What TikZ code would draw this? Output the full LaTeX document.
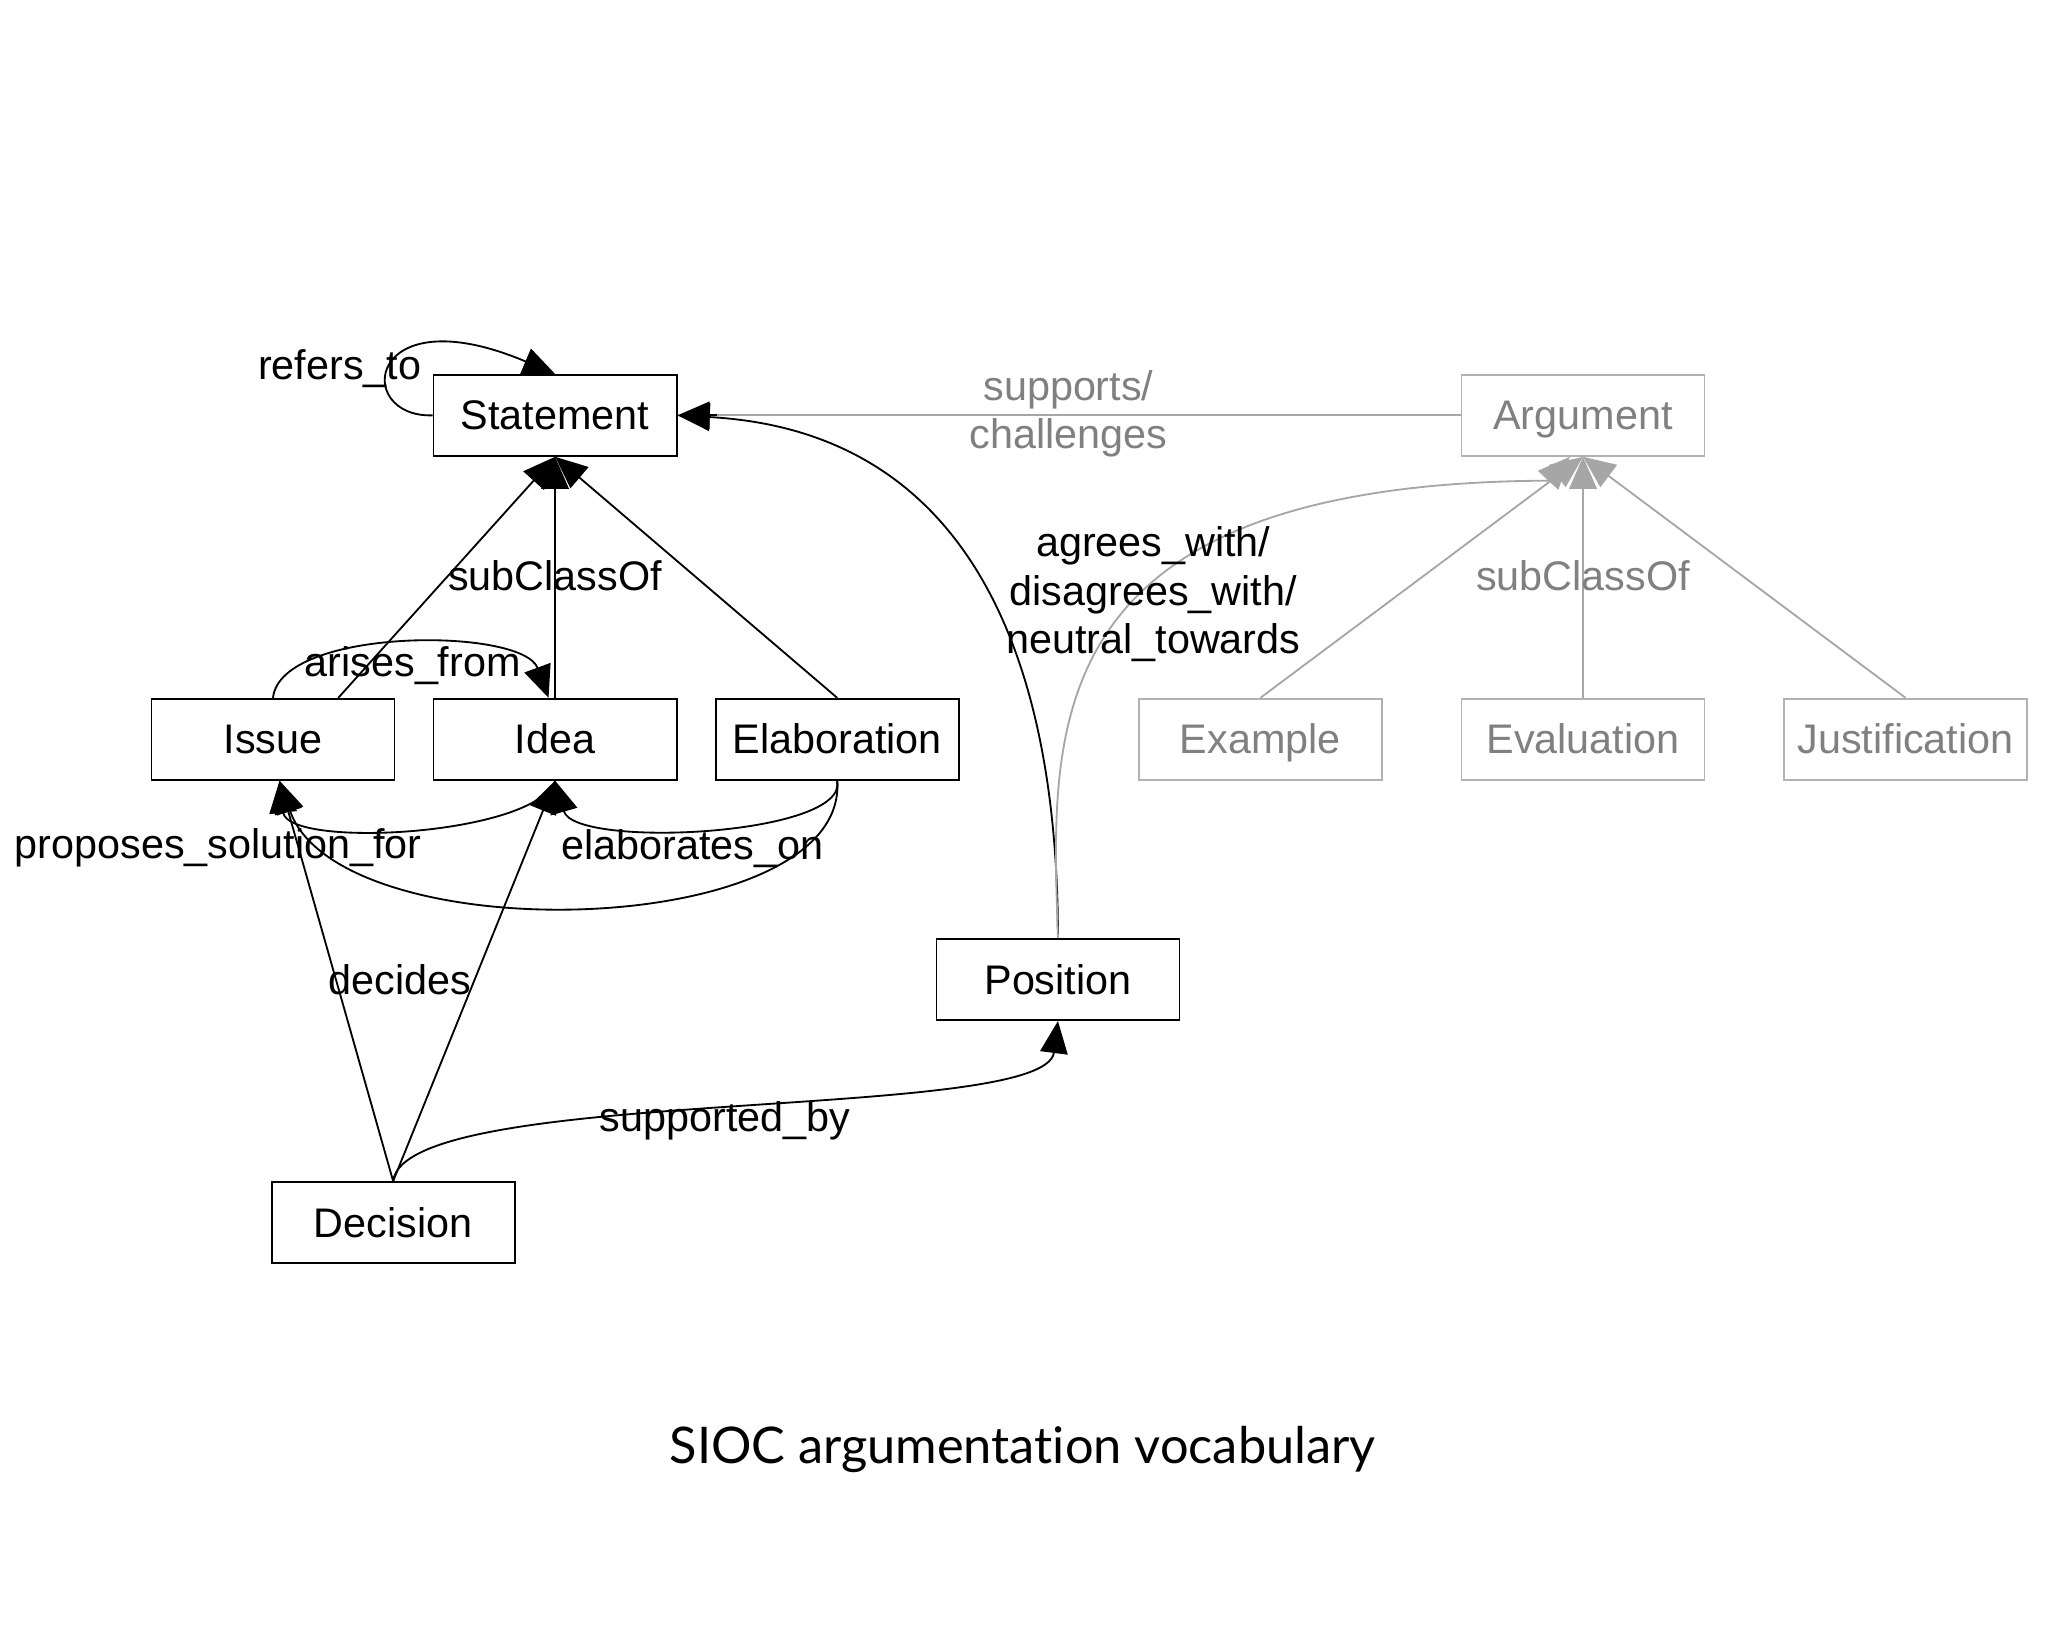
\documentclass[tikz,border=0pt]{standalone}
\usepackage{fontspec}
\setmainfont{Liberation Sans}
\newfontfamily\titlefont[Ligatures={NoCommon,NoRare}]{Lato}
\usetikzlibrary{arrows.meta}
\begin{document}
\begin{tikzpicture}[x=0.01cm,y=-0.01cm,
  cls/.style={draw, minimum width=1.86cm, minimum height=0.62cm, font=\fontsize{9}{11}\selectfont, inner sep=0pt, text height=1.6ex, text depth=0.4ex},
  gcls/.style={cls, draw=gray!60, text=gray},
  lbl/.style={font=\fontsize{9}{10.5}\selectfont, align=center, inner sep=1pt},
  rel/.style={-{Triangle[length=7pt,width=6pt]}},
  grel/.style={rel, draw=gray!70}]

\useasboundingbox (0,0) rectangle (1568,1254);

% classes
\node [cls] (statement) at (425,318) {Statement};
\node [gcls] (argument) at (1212,318) {Argument};
\node [cls] (issue) at (209,566) {Issue};
\node [cls] (idea) at (425,566) {Idea};
\node [cls] (elab) at (641,566) {Elaboration};
\node [gcls] (example) at (965,566) {Example};
\node [gcls] (evaluation) at (1212,566) {Evaluation};
\node [gcls] (justif) at (1459,566) {Justification};
\node [cls] (position) at (810,750) {Position};
\node [cls] (decision) at (301,936) {Decision};

% subClassOf
\draw [rel] (issue.north) ++(50,0) coordinate (i1) -- (statement.south);
\draw [rel] (idea.north) -- (statement.south);
\draw [rel] (elab.north) -- (statement.south);
\draw [grel] (example.north) -- (argument.south);
\draw [grel] (evaluation.north) -- (argument.south);
\draw [grel] (justif.north) -- (argument.south);

% relations
\draw [rel] (statement.west) .. controls (270,320) and (280,225) .. (statement.north);
\draw [rel] (issue.north) .. controls (215,480) and (400,480) .. ([xshift=-0.05cm]idea.north);
\draw [rel] (idea.south) .. controls (410,640) and (220,650) .. ([xshift=0.05cm]issue.south);
\draw [rel] (elab.south) .. controls (650,640) and (440,650) .. (idea.south);
\draw [rel] (elab.south) .. controls (650,720) and (260,730) .. ([xshift=0.05cm]issue.south);
\draw [rel] (decision.north) -- ([xshift=0.05cm]issue.south);
\draw [rel] (decision.north) -- (idea.south);
\draw [rel] (decision.north) .. controls (310,830) and (800,860) .. (position.south);
\draw [rel] (position.north) .. controls (810,500) and (740,330) .. (statement.east);
\coordinate (bend) at (1185,368);
\draw [grel] (position.north) .. controls (805,560) and (790,370) .. (bend) -- ([xshift=-0.1cm]argument.south);
\draw [draw=gray!70] (argument.west) -- (statement.east);
\draw [rel] ([xshift=0.3cm]statement.east) -- (statement.east);

% labels
\node [lbl] (lrefers) at (260,282) {refers\_to};
\node [lbl, text=gray] (lsupports) at (818,317) {supports/\\challenges};
\node [lbl] (lsub) at (425,441) {subClassOf};
\node [lbl, text=gray] (lgsub) at (1212,441) {subClassOf};
\node [lbl] (larises) at (316,510) {arises\_from};
\node [lbl] (lagrees) at (883,455) {agrees\_with/\\disagrees\_with/\\neutral\_towards};
\node [lbl] (lproposes) at (167,649) {proposes\_solution\_for};
\node [lbl] (lelab) at (530,650) {elaborates\_on};
\node [lbl] (ldecides) at (306,750) {decides};
\node [lbl] (lsupported) at (555,858) {supported\_by};

\node [font=\titlefont\fontsize{11}{14}\selectfont] (title) at (783,1110) {SIOC argumentation vocabulary};
\end{tikzpicture}
\end{document}
